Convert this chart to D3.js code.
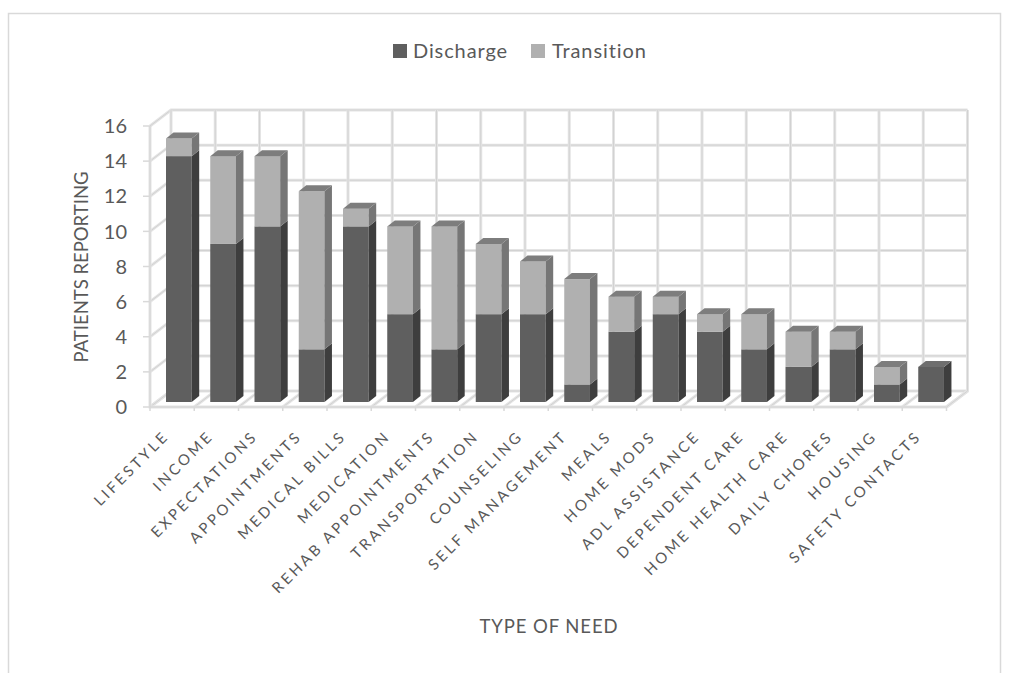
<!DOCTYPE html>
<html>
<head>
<meta charset="utf-8">
<script src="https://cdn.jsdelivr.net/npm/d3@7/dist/d3.min.js"></script>
<style>
  html, body { margin: 0; padding: 0; background: #fff; }
  svg { display: block; }
  text { font-family: "Lato", sans-serif; fill: #595959; }
</style>
</head>
<body>
<svg id="chart" width="1016" height="673"></svg>
<script>
// Patient-reported needs, stacked by care phase
const categories = ["LIFESTYLE", "INCOME", "EXPECTATIONS", "APPOINTMENTS", "MEDICAL BILLS", "MEDICATION",
  "REHAB APPOINTMENTS", "TRANSPORTATION", "COUNSELING", "SELF MANAGEMENT", "MEALS", "HOME MODS",
  "ADL ASSISTANCE", "DEPENDENT CARE", "HOME HEALTH CARE", "DAILY CHORES", "HOUSING", "SAFETY CONTACTS"];
const discharge = [14, 9, 10, 3, 10, 5, 3, 5, 5, 1, 4, 5, 4, 3, 2, 3, 1, 2];
const transition = [1, 5, 4, 9, 1, 5, 7, 4, 3, 6, 2, 1, 1, 2, 2, 1, 1, 0];
const yTicks = d3.range(0, 17, 2);

const svg = d3.select("#chart");

// Oblique projection: the back wall sits up and to the right of the front plane
const depth = { dx: 21, dy: -16 };
const x = d3.scaleBand().domain(categories).range([150, 946.5]).paddingInner(0).paddingOuter(0);
const y = d3.scaleLinear().domain([0, 16]).range([407, 126]);
const barOffset = 16, barWidth = 25.7, barBase = -5, barDepth = { dx: 7.5, dy: -6 };

// Chart frame
svg.append("path")
  .attr("d", "M8.5,673V13.5H1000.5V673")
  .attr("fill", "none").attr("stroke", "#d9d9d9").attr("stroke-width", 1.5);

// Grid drawn as a pale band with a thin darker core
const grid = svg.append("g").attr("fill", "none");
function gridLine(d) {
  [["#e4e4e4", 3], ["#d2d2d2", 1]].forEach(([c, w]) => {
    grid.append("path").attr("d", d).attr("stroke", c).attr("stroke-width", w);
  });
}
const xEdges = categories.map(c => x(c)).concat([x.range()[1]]);

yTicks.forEach(t => {
  gridLine(`M${150},${y(t)}L${150 + depth.dx},${y(t) + depth.dy}H${946.5 + depth.dx}`);
});
xEdges.forEach(v => {
  gridLine(`M${v + depth.dx},${y(16) + depth.dy}V${y(0) + depth.dy}L${v},${y(0)}`);
});
gridLine(`M150,${y(16)}V${y(0)}H946.5`);
gridLine(`M946.5,${y(0)}L${946.5 + depth.dx},${y(0) + depth.dy}`);

// Tick marks on the front edges
const tickG = svg.append("g").attr("stroke", "#d9d9d9").attr("stroke-width", 1.5);
yTicks.forEach(t => tickG.append("line").attr("x1", 143).attr("x2", 150).attr("y1", y(t)).attr("y2", y(t)));
xEdges.forEach(v => tickG.append("line").attr("x1", v).attr("x2", v).attr("y1", y(0)).attr("y2", y(0) + 4));

// Stacked prisms
const palette = {
  discharge: { front: "#5f5f5f", side: "#3e3e3e", top: "#6e6e6e" },
  transition: { front: "#b0b0b0", side: "#767676", top: "#7d7d7d" }
};
const bars = svg.append("g");
categories.forEach((c, i) => {
  const left = x(c) + barOffset, right = left + barWidth;
  const segments = [
    { from: 0, to: discharge[i], col: palette.discharge },
    { from: discharge[i], to: discharge[i] + transition[i], col: palette.transition }
  ].filter(s => s.to > s.from);
  segments.forEach((s, k) => {
    const y0 = y(s.from) + barBase, y1 = y(s.to) + barBase;
    const g = bars.append("g");
    g.append("rect").attr("x", left).attr("y", y1).attr("width", barWidth).attr("height", y0 - y1).attr("fill", s.col.front);
    g.append("path")
      .attr("d", `M${right},${y0}L${right + barDepth.dx},${y0 + barDepth.dy}V${y1 + barDepth.dy}L${right},${y1}Z`)
      .attr("fill", s.col.side);
    if (k === segments.length - 1) {
      g.append("path")
        .attr("d", `M${left},${y1}L${left + barDepth.dx},${y1 + barDepth.dy}H${right + barDepth.dx}L${right},${y1}Z`)
        .attr("fill", s.col.top);
    }
  });
});

// Value axis labels
svg.append("g").selectAll("text").data(yTicks).join("text")
  .attr("x", 127).attr("y", d => y(d)).attr("dy", "0.36em")
  .attr("text-anchor", "end").attr("font-size", 20).text(d => d);

// Category labels, angled and tracked out
svg.append("g").selectAll("text").data(categories).join("text")
  .attr("transform", c => `translate(${x(c) + x.bandwidth() / 2 - 2},${437}) rotate(-45)`)
  .attr("text-anchor", "end").attr("font-size", 15).attr("letter-spacing", 3)
  .text(c => c);

// Axis titles
svg.append("text").attr("x", 549).attr("y", 632.5).attr("text-anchor", "middle").attr("font-size", 18.5).attr("letter-spacing", 0.9).text("TYPE OF NEED");
svg.append("text").attr("transform", "translate(88,267) rotate(-90)").attr("text-anchor", "middle").attr("font-size", 18.5).text("PATIENTS REPORTING");

// Legend
const legend = [["Discharge", palette.discharge.front, 393, 413], ["Transition", palette.transition.front, 531, 552]];
legend.forEach(([name, col, sx, tx]) => {
  svg.append("rect").attr("x", sx).attr("y", 44).attr("width", 14).attr("height", 14).attr("fill", col);
  svg.append("text").attr("x", tx).attr("y", 57.5).attr("font-size", 20).attr("letter-spacing", 0.9).text(name);
});
</script>
</body>
</html>
